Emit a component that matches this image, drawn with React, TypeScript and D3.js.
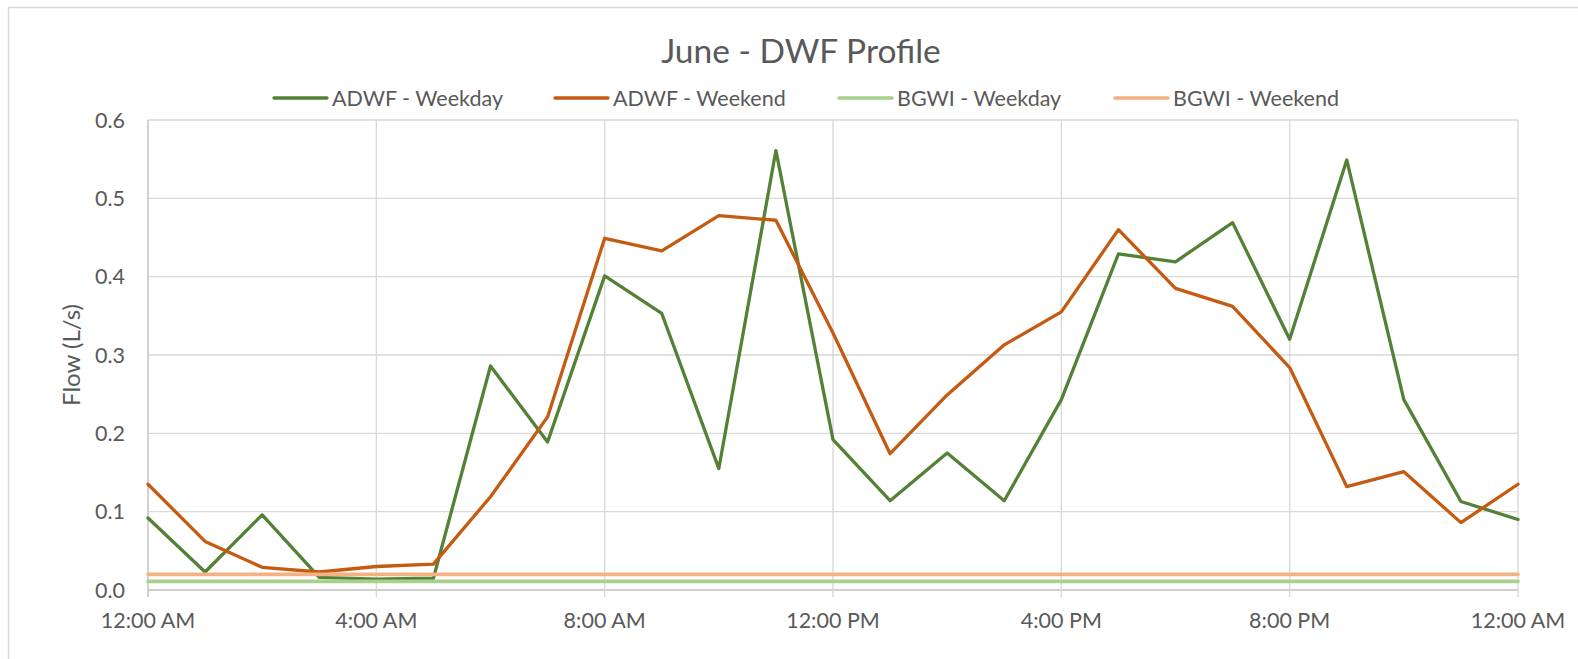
import React from "react";
import * as d3 from "d3";

const hours = [0,1,2,3,4,5,6,7,8,9,10,11,12,13,14,15,16,17,18,19,20,21,22,23,24];
const adwfWeekday = [0.092,0.023,0.096,0.016,0.014,0.015,0.286,0.189,0.401,0.353,0.155,0.561,0.192,0.114,0.175,0.114,0.243,0.429,0.419,0.469,0.320,0.549,0.243,0.113,0.090];
const adwfWeekend = [0.135,0.062,0.029,0.023,0.030,0.033,0.119,0.221,0.449,0.433,0.478,0.472,0.328,0.174,0.249,0.313,0.355,0.460,0.385,0.362,0.284,0.132,0.151,0.086,0.135];
const bgwiWeekday = [0.011,0.011,0.011,0.011,0.011,0.011,0.011,0.011,0.011,0.011,0.011,0.011,0.011,0.011,0.011,0.011,0.011,0.011,0.011,0.011,0.011,0.011,0.011,0.011,0.011];
const bgwiWeekend = [0.020,0.020,0.020,0.020,0.020,0.020,0.020,0.020,0.020,0.020,0.020,0.020,0.020,0.020,0.020,0.020,0.020,0.020,0.020,0.020,0.020,0.020,0.020,0.020,0.020];

const seriesNames = ["ADWF - Weekday", "ADWF - Weekend", "BGWI - Weekday", "BGWI - Weekend"];
const seriesColors = ["#538135", "#C55A11", "#A9D18E", "#F4B183"];
const seriesWidths = [3.3, 3.3, 3.6, 3.6];
const seriesValues = [adwfWeekday, adwfWeekend, bgwiWeekday, bgwiWeekend];

const xTickHours = [0, 4, 8, 12, 16, 20, 24];
const xTickLabels = ["12:00 AM", "4:00 AM", "8:00 AM", "12:00 PM", "4:00 PM", "8:00 PM", "12:00 AM"];
const yTicks = [0, 0.1, 0.2, 0.3, 0.4, 0.5, 0.6];

const title = "June - DWF Profile";
const yTitle = "Flow (L/s)";

const W = 1578, H = 659;
const plot = { left: 148, right: 1518, top: 120, bottom: 590 };
const legendX = [274, 555, 839, 1115];
const FONT = "Lato, 'Open Sans', sans-serif";
const TEXT = "#595959";
const GRID = "#D9D9D9";

export default function App() {
  const x = d3.scaleLinear().domain([0, 24]).range([plot.left, plot.right]);
  const y = d3.scaleLinear().domain([0, 0.6]).range([plot.bottom, plot.top]);
  const line = d3.line<number>().x((_, i) => x(hours[i])).y((d) => y(d));
  const fmt = d3.format(".1f");

  return (
    <div style={{ position: "fixed", left: 0, top: 0 }}>
      <svg width={W} height={H} style={{ display: "block", background: "#fff" }}>
        <rect x={8.5} y={7.5} width={1620} height={700} fill="#fff" stroke={GRID} strokeWidth={1.5} />
        <text x={801} y={63} textAnchor="middle" fontFamily={FONT} fontSize={33.5} fill={TEXT}>{title}</text>

        {seriesNames.map((n, i) => (
          <g key={n}>
            <line x1={legendX[i]} x2={legendX[i] + 53} y1={98} y2={98} stroke={seriesColors[i]} strokeWidth={seriesWidths[i]} strokeLinecap="round" />
            <text x={legendX[i] + 58} y={106} fontFamily={FONT} fontSize={21.5} fill={TEXT}>{n}</text>
          </g>
        ))}

        {yTicks.map((t) => (
          <line key={"gy" + t} x1={plot.left} x2={plot.right} y1={y(t)} y2={y(t)} stroke={t === 0 ? "#BFBFBF" : GRID} strokeWidth={1.4} />
        ))}
        {xTickHours.map((h) => (
          <line key={"gx" + h} x1={x(h)} x2={x(h)} y1={plot.top} y2={plot.bottom + 7} stroke={h === 0 ? "#BFBFBF" : GRID} strokeWidth={1.4} />
        ))}

        {yTicks.map((t) => (
          <text key={"yl" + t} x={125} y={y(t) + 7.5} textAnchor="end" fontFamily={FONT} fontSize={21.5} fill={TEXT}>{fmt(t)}</text>
        ))}
        {xTickHours.map((h, i) => (
          <text key={"xl" + h} x={x(h)} y={628} textAnchor="middle" fontFamily={FONT} fontSize={21.5} fill={TEXT}>{xTickLabels[i]}</text>
        ))}
        <text transform={`translate(80,${(plot.top + plot.bottom) / 2}) rotate(-90)`} textAnchor="middle" fontFamily={FONT} fontSize={24} fill={TEXT}>{yTitle}</text>

        {seriesValues.map((vals, i) => (
          <path key={"s" + i} d={line(vals) || ""} fill="none" stroke={seriesColors[i]} strokeWidth={seriesWidths[i]} strokeLinejoin="round" strokeLinecap="round" />
        ))}
      </svg>
    </div>
  );
}
